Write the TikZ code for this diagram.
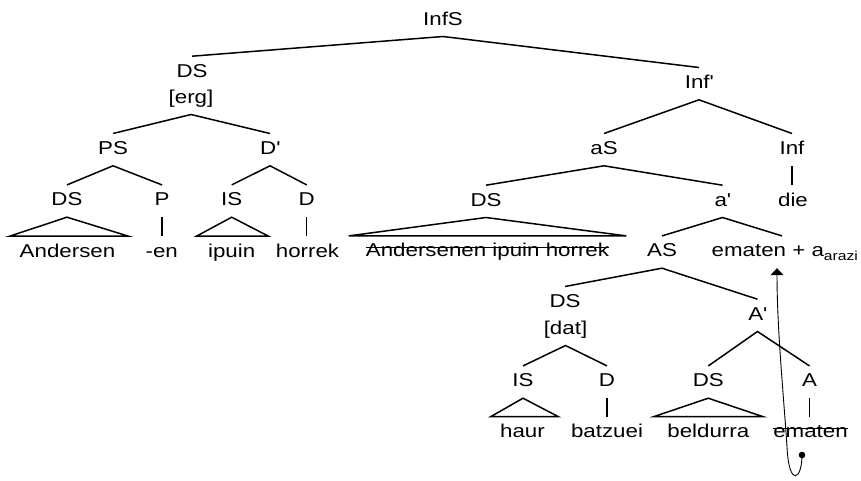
\documentclass[tikz,border=0pt]{standalone}
\usepackage{fontspec}
\setmainfont{Liberation Sans}[FakeStretch=1.2]
\usetikzlibrary{arrows.meta}
% struck-through text
\newcommand{\strikeout}[1]{\setbox0\hbox{#1}\rlap{\raisebox{0.46em}{\rule{\wd0}{0.9pt}}}\box0}

\begin{document}
\begin{tikzpicture}[x=1pt,y=-1pt,
    every node/.style={anchor=base,inner xsep=1pt,inner ysep=7.3pt,
      text height=13.3pt,text depth=4pt,font=\fontsize{18.6}{22}\selectfont},
    branch/.style={line width=1.5pt}]
  \useasboundingbox (0,0) rectangle (861,480);
  % categories
  \node (infs) at (443,25) {InfS};
  \node (dserg) at (192,77) {DS};
  \node (erg) at (191,103) {[erg]};
  \node (infbar) at (699,88.3) {Inf\textquotesingle};
  \node (ps) at (113,154.3) {PS};
  \node (dbar) at (270,154.3) {D\textquotesingle};
  \node (as) at (604,154.3) {aS};
  \node (inf) at (792,154.3) {Inf};
  \node (dsa) at (67,205.7) {DS};
  \node (p) at (162,205.7) {P};
  \node (isa) at (231.7,205.7) {IS};
  \node (da) at (306.7,205.7) {D};
  \node (dsb) at (486,206) {DS};
  \node (abar) at (722.5,206) {a\textquotesingle};
  \node (die) at (793,206) {die};
  \node (bigas) at (662,256.7) {AS};
  \node (emat) at (785,256.7) {ematen + a\textsubscript{arazi}};
  \node (dsdat) at (565,307.3) {DS};
  \node (dat) at (565.5,334) {[dat]};
  \node (abarb) at (757.5,320) {A\textquotesingle};
  \node (isb) at (523,386.7) {IS};
  \node (db) at (607,386.7) {D};
  \node (dsc) at (708.3,386.7) {DS};
  \node (aa) at (809.5,386.7) {A};
  % words
  \node (andersen) at (67.5,257) {Andersen};
  \node (en) at (161.7,257) {-en};
  \node (ipuin) at (231.7,257) {ipuin};
  \node (horrek) at (307.5,257) {horrek};
  \node (dsbtext) at (487.5,256.7) {\strikeout{Andersenen ipuin horrek}};
  \node (haur) at (522.5,437.3) {haur};
  \node (batzuei) at (607,437.3) {batzuei};
  \node (beldurra) at (708.3,437.3) {beldurra};
  \node (ematb) at (810.5,437.3) {\strikeout{ematen}};

  \draw[branch] (dserg.north) -- (infs.south) -- (infbar.north);
  \draw[branch] (ps.north) -- (erg.south) -- (dbar.north);
  \draw[branch] (as.north) -- (infbar.south) -- (inf.north);
  \draw[branch] (dsa.north) -- (ps.south) -- (p.north);
  \draw[branch] (isa.north) -- (dbar.south) -- (da.north);
  \draw[branch] (dsb.north) -- (as.south) -- (abar.north);
  \draw[branch] (bigas.north) -- (abar.south) -- ([xshift=-3pt]emat.north);
  \draw[branch] (dsdat.north) -- (bigas.south) -- (abarb.north);
  \draw[branch] (isb.north) -- (dat.south) -- (db.north);
  \draw[branch] (dsc.north) -- (abarb.south) -- (aa.north);
  % single daughters
  \draw[branch] (p.south) -- (p.south |- en.north)
                (da.south) -- (da.south |- horrek.north)
                (inf.south) -- (inf.south |- die.north)
                (db.south) -- (db.south |- batzuei.north)
                (aa.south) -- (aa.south |- ematb.north);
  % triangles
  \draw[branch] (dsa.south) -- ([xshift=-9pt]andersen.north west)
     -- ([xshift=12pt]andersen.north east) -- cycle;
  \draw[branch] (isa.south) -- ([xshift=-10.5pt]ipuin.north west)
     -- ([xshift=12pt]ipuin.north east) -- cycle;
  \draw[branch] (dsb.south) -- ([xshift=-16pt]dsbtext.north west)
     -- ([xshift=16pt]dsbtext.north east) -- cycle;
  \draw[branch] (isb.south) -- ([xshift=-8pt]haur.north west)
     -- ([xshift=12pt]haur.north east) -- cycle;
  \draw[branch] (dsc.south) -- ([xshift=-12pt]beldurra.north west)
     -- ([xshift=12pt]beldurra.north east) -- cycle;

  % movement
  \coordinate (trace) at (802,455);
  \fill (trace) circle (3.3pt);
  \draw[line width=0.9pt,-{Triangle[width=13pt,length=7pt]}] (trace)
     .. controls (802,480) and (789,488) .. (787,447)
     .. controls (784,400) and (777,330) .. ([xshift=-8pt]emat.south);
\end{tikzpicture}
\end{document}
